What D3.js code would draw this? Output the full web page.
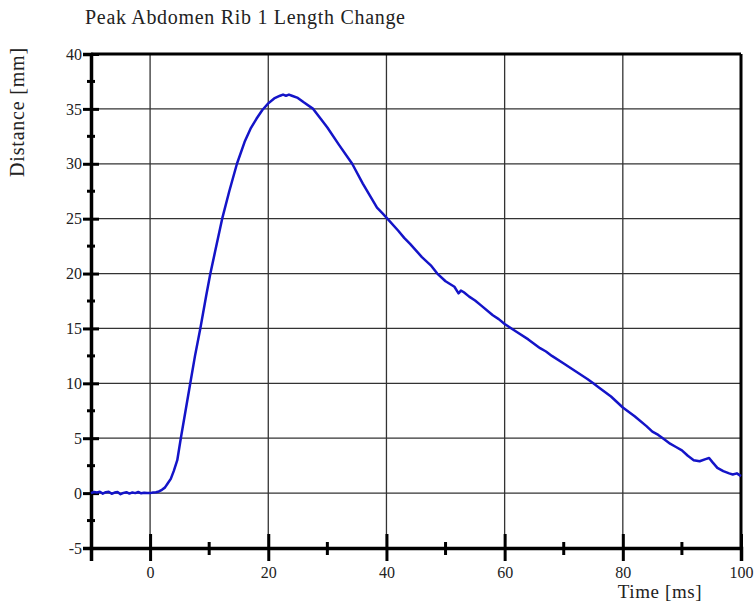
<!DOCTYPE html>
<html>
<head>
<meta charset="utf-8">
<script src="https://cdn.jsdelivr.net/npm/d3@7"></script>
<style>
  body { margin: 0; background: #fff; }
  text { font-family: "Liberation Serif", "Times New Roman", serif; fill: #222; }
</style>
</head>
<body>
<svg id="chart" width="755" height="602"></svg>
<script>
var title = "Peak Abdomen Rib 1 Length Change";
var xTitle = "Time [ms]";
var yTitle = "Distance [mm]";

var xMajor = [0, 20, 40, 60, 80, 100];
var xMinor = [10, 30, 50, 70, 90];
var yMajor = [-5, 0, 5, 10, 15, 20, 25, 30, 35, 40];
var yMinor = [-2.5, 2.5, 7.5, 12.5, 17.5, 22.5, 27.5, 32.5, 37.5];

// time [ms] and distance [mm]
var time = [-10, -9.5, -9, -8.5, -8, -7.5, -7, -6.5, -6, -5.5, -5, -4.5, -4, -3.5, -3, -2.5, -2, -1.5, -1, -0.5,
  0, 0.5, 1, 1.5, 2, 2.5, 3, 3.5, 4, 4.6, 5.2, 6, 6.8, 7.6, 8.5, 9.5, 10.2, 11, 12.2, 13.4, 14.7,
  16, 17, 18, 19, 20, 21, 22, 22.5, 23, 23.5, 24, 25, 26, 27.6, 29, 30, 32, 34.2, 36, 37.2, 38.4, 39.3, 40,
  42, 43, 44, 46, 47.5, 48.6, 50, 51.5, 52.2, 52.6, 53.1, 54, 55, 56, 58, 59, 60, 62, 64, 66, 67, 68, 70, 72, 74, 75,
  76, 78, 80, 82, 84, 85, 86, 87, 88, 89, 90, 91, 92, 93, 94, 94.6, 95.2, 96, 97, 98, 98.6, 99.3, 100];
var distance = [0.0, 0.1, 0.05, 0.12, -0.05, 0.08, 0.12, -0.06, 0.05, 0.1, -0.1, 0.02, 0.08, -0.04, 0.06, 0.0, 0.1, -0.02, 0.04, 0.0,
  0.0, 0.05, 0.08, 0.15, 0.3, 0.5, 0.9, 1.3, 2.0, 3.0, 5.0, 7.5, 10.0, 12.5, 15.0, 18.0, 20.0, 22.0, 25.0, 27.5, 30.0,
  32.0, 33.2, 34.1, 34.9, 35.5, 35.95, 36.2, 36.3, 36.2, 36.3, 36.2, 36.0, 35.6, 35.0, 34.0, 33.3, 31.7, 30.0, 28.2, 27.1, 26.0, 25.5, 25.1,
  23.9, 23.25, 22.7, 21.5, 20.75, 20.0, 19.3, 18.8, 18.2, 18.45, 18.3, 17.9, 17.55, 17.1, 16.2, 15.85, 15.4, 14.7, 14.0, 13.2, 12.9, 12.5, 11.8, 11.1, 10.4, 10.0,
  9.6, 8.8, 7.8, 7.0, 6.1, 5.6, 5.3, 4.9, 4.5, 4.2, 3.9, 3.4, 3.0, 2.9, 3.1, 3.2, 2.8, 2.3, 2.0, 1.8, 1.7, 1.8, 1.55];

var svg = d3.select("#chart");
var plotLeft = 91, plotRight = 741, plotTop = 54, plotBottom = 548;

var x = d3.scaleLinear().domain([-10, 100]).range([plotLeft, plotRight]);
var y = d3.scaleLinear().domain([-5, 40]).range([plotBottom, plotTop]);

// grid
svg.append("g")
  .selectAll("line")
  .data(xMajor.filter(d => d < 100))
  .enter()
  .append("line")
    .attr("x1", d => x(d)).attr("x2", d => x(d))
    .attr("y1", plotTop).attr("y2", plotBottom)
    .attr("stroke", "#333").attr("stroke-width", 1.3);

svg.append("g")
  .selectAll("line")
  .data(yMajor.filter(d => d > -5 && d < 40))
  .enter()
  .append("line")
    .attr("x1", plotLeft).attr("x2", plotRight)
    .attr("y1", d => y(d)).attr("y2", d => y(d))
    .attr("stroke", "#333").attr("stroke-width", 1.3);

// frame (top and right)
svg.append("line")
  .attr("x1", plotLeft).attr("x2", plotRight).attr("y1", plotTop).attr("y2", plotTop)
  .attr("stroke", "#000").attr("stroke-width", 3);
svg.append("line")
  .attr("x1", plotRight).attr("x2", plotRight).attr("y1", plotTop).attr("y2", plotBottom)
  .attr("stroke", "#000").attr("stroke-width", 3);

// x axis
var xAxis = svg.append("g")
  .attr("transform", "translate(0," + plotBottom + ")")
  .call(d3.axisBottom(x).tickValues(xMajor).tickSize(13).tickPadding(6).tickFormat(d => String(d)));
xAxis.select(".domain").attr("stroke", "#000").attr("stroke-width", 3.5);
xAxis.selectAll(".tick line").attr("y1", -14).attr("stroke", "#000").attr("stroke-width", 3);
xAxis.selectAll(".tick text").style("font-size", "16px").style("font-family", "Liberation Serif").attr("fill", "#333");

svg.append("g")
  .selectAll("line")
  .data(xMinor)
  .enter()
  .append("line")
    .attr("x1", d => x(d)).attr("x2", d => x(d))
    .attr("y1", plotBottom - 6).attr("y2", plotBottom + 7)
    .attr("stroke", "#000").attr("stroke-width", 3);

// y axis
var yAxis = svg.append("g")
  .attr("transform", "translate(" + plotLeft + ",0)")
  .call(d3.axisLeft(y).tickValues(yMajor).tickSize(8).tickPadding(1).tickFormat(d => String(d)));
yAxis.select(".domain").attr("stroke", "#000").attr("stroke-width", 3.5);
yAxis.selectAll(".tick line").attr("x1", 8).attr("stroke", "#000").attr("stroke-width", 3);
yAxis.selectAll(".tick text").style("font-size", "16px").style("font-family", "Liberation Serif").attr("fill", "#333");

svg.append("g")
  .selectAll("line")
  .data(yMinor)
  .enter()
  .append("line")
    .attr("x1", plotLeft - 4).attr("x2", plotLeft + 4)
    .attr("y1", d => y(d)).attr("y2", d => y(d))
    .attr("stroke", "#000").attr("stroke-width", 3);

// curve
var points = time.map((t, i) => [t, distance[i]]);
svg.append("path")
  .datum(points)
  .attr("fill", "none")
  .attr("stroke", "#1414c8")
  .attr("stroke-width", 2.5)
  .attr("stroke-linejoin", "round")
  .attr("d", d3.line().x(d => x(d[0])).y(d => y(d[1])));

// titles
svg.append("text")
  .attr("x", 85).attr("y", 24)
  .style("font-size", "20px")
  .style("letter-spacing", "0.7px")
  .text(title);

svg.append("text")
  .attr("transform", "translate(24,112) rotate(-90)")
  .style("text-anchor", "middle")
  .style("font-size", "20px")
  .style("letter-spacing", "0.8px")
  .text(yTitle);

svg.append("text")
  .attr("x", 660).attr("y", 598)
  .style("text-anchor", "middle")
  .style("font-size", "19px")
  .style("letter-spacing", "0.6px")
  .text(xTitle);
</script>
</body>
</html>
